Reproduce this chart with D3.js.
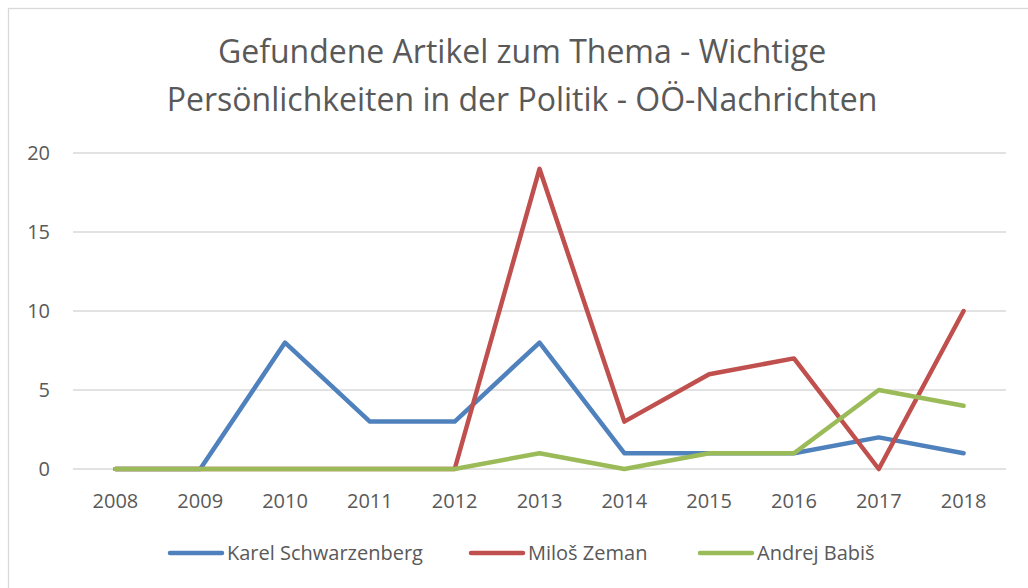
<!DOCTYPE html>
<html lang="de">
<head>
<meta charset="utf-8">
<title>Gefundene Artikel zum Thema</title>
<script src="https://cdn.jsdelivr.net/npm/d3@7"></script>
<style>
    body { margin: 0; background: #fff; }
    text { font-family: "Open Sans", "Noto Sans", sans-serif; fill: #595959; }
    .grid line { stroke: #d9d9d9; stroke-width: 1.3px; }
    .series { fill: none; stroke-width: 4.5px; stroke-linejoin: round; stroke-linecap: round; }
</style>
</head>
<body>
<script>
// data
var years = ["2008", "2009", "2010", "2011", "2012", "2013", "2014", "2015", "2016", "2017", "2018"];
var schwarzenberg = [0, 0, 8, 3, 3, 8, 1, 1, 1, 2, 1];
var zeman = [0, 0, 0, 0, 0, 19, 3, 6, 7, 0, 10];
var babis = [0, 0, 0, 0, 0, 1, 0, 1, 1, 5, 4];
var yTicks = [0, 5, 10, 15, 20];

var seriesList = [
    { name: "Karel Schwarzenberg", values: schwarzenberg, color: "#4f81bd" },
    { name: "Miloš Zeman", values: zeman, color: "#c0504d" },
    { name: "Andrej Babiš", values: babis, color: "#9bbb59" }
];

var w = 1028, h = 588;
var svg = d3.select("body").append("svg")
    .attr("width", w)
    .attr("height", h);

// chart area border
svg.append("rect")
    .attr("x", 8.5).attr("y", 8.5)
    .attr("width", w).attr("height", h)
    .attr("fill", "none")
    .attr("stroke", "#d9d9d9")
    .attr("stroke-width", 1.3);

// title
var title = svg.append("text")
    .attr("text-anchor", "middle")
    .style("font-size", "32px");
title.append("tspan").attr("x", 522).attr("y", 63).text("Gefundene Artikel zum Thema - Wichtige");
title.append("tspan").attr("x", 522).attr("y", 111).text("Persönlichkeiten in der Politik - OÖ-Nachrichten");

var x = d3.scaleBand().domain(years).range([73, 1006]);
var y = d3.scaleLinear().domain([0, 20]).range([469, 153]);

// gridlines
svg.append("g").attr("class", "grid")
    .selectAll("line").data(yTicks).enter().append("line")
    .attr("x1", 73).attr("x2", 1006)
    .attr("y1", function (d) { return y(d); })
    .attr("y2", function (d) { return y(d); });

// y labels
svg.append("g").selectAll("text").data(yTicks).enter().append("text")
    .attr("x", 50)
    .attr("y", function (d) { return y(d); })
    .attr("dy", "0.35em")
    .attr("text-anchor", "end")
    .style("font-size", "20px")
    .text(function (d) { return d; });

// x labels
svg.append("g").selectAll("text").data(years).enter().append("text")
    .attr("x", function (d) { return x(d) + x.bandwidth() / 2; })
    .attr("y", 508)
    .attr("text-anchor", "middle")
    .style("font-size", "20px")
    .text(function (d) { return d; });

var line = d3.line()
    .x(function (d, i) { return x(years[i]) + x.bandwidth() / 2; })
    .y(function (d) { return y(d); });

svg.selectAll("path.series").data(seriesList).enter().append("path")
    .attr("class", "series")
    .attr("stroke", function (d) { return d.color; })
    .attr("d", function (d) { return line(d.values); });

// legend
var legendX = [170, 471, 700];
var lg = svg.selectAll("g.legend").data(seriesList).enter().append("g")
    .attr("class", "legend")
    .attr("transform", function (d, i) { return "translate(" + legendX[i] + ",553)"; });
lg.append("line")
    .attr("x1", 0).attr("x2", 52)
    .attr("stroke", function (d) { return d.color; })
    .attr("stroke-width", 4.5)
    .attr("stroke-linecap", "round");
lg.append("text")
    .attr("x", 57)
    .attr("dy", "0.35em")
    .style("font-size", "20px")
    .text(function (d) { return d.name; });
</script>
</body>
</html>
